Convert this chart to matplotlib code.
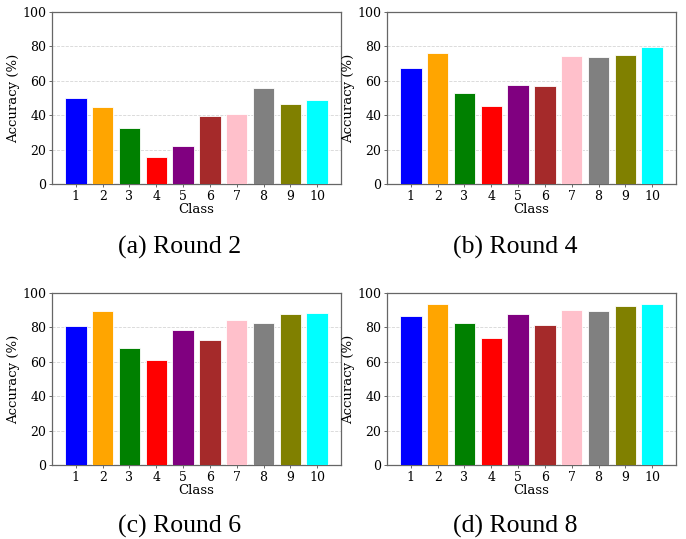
import matplotlib
matplotlib.use('Agg')
import matplotlib.pyplot as plt

# per-class accuracy (%)
classes = [1, 2, 3, 4, 5, 6, 7, 8, 9, 10]
acc_round2 = [49.8, 44.8, 32.6, 15.7, 22.3, 39.7, 40.7, 55.6, 46.7, 49.0]
acc_round4 = [67.4, 76.2, 52.9, 45.5, 57.6, 57.0, 74.4, 74.0, 75.0, 79.8]
acc_round6 = [80.6, 89.5, 68.0, 61.0, 78.3, 72.5, 84.1, 82.6, 88.0, 88.6]
acc_round8 = [86.4, 93.4, 82.6, 74.0, 87.6, 81.4, 90.3, 89.5, 92.2, 93.4]
captions = ['(a) Round 2', '(b) Round 4', '(c) Round 6', '(d) Round 8']

colors = ['blue', 'orange', 'green', 'red', 'purple',
          'brown', 'pink', 'gray', 'olive', 'cyan']

fig = plt.figure(figsize=(6.86, 5.39), dpi=100)

# axes boxes in figure fractions
boxes = [[0.0758, 0.6586, 0.4213, 0.3191],
         [0.5641, 0.6586, 0.4213, 0.3191],
         [0.0758, 0.1373, 0.4213, 0.3191],
         [0.5641, 0.1373, 0.4213, 0.3191]]
cap_pos = [(0.262, 0.541), (0.751, 0.541), (0.262, 0.023), (0.751, 0.023)]

data = [acc_round2, acc_round4, acc_round6, acc_round8]

for box, vals, cap, cp in zip(boxes, data, captions, cap_pos):
    ax = fig.add_axes(box)
    ax.bar(classes, vals, width=0.8, color=colors, edgecolor='white', linewidth=0.6, zorder=3)
    ax.set_ylim(0, 100)
    ax.set_xticks(classes)
    ax.set_yticks([0, 20, 40, 60, 80, 100])
    ax.grid(axis='y', linestyle='--', color='#cccccc', linewidth=0.6, alpha=0.8, zorder=0)
    for s in ax.spines.values():
        s.set_color('#666666')
        s.set_linewidth(0.9)
    ax.tick_params(labelsize=9, length=2.5, width=0.7, color='#666666', pad=1.5)
    for lab in ax.get_xticklabels() + ax.get_yticklabels():
        lab.set_family('DejaVu Serif')
    ax.set_xlabel('Class', family='DejaVu Serif', fontsize=9.5, labelpad=0)
    ax.set_ylabel('Accuracy (%)', family='DejaVu Serif', fontsize=9.5, labelpad=2)
    fig.text(cp[0], cp[1], cap, ha='center', va='center', family='Liberation Serif', fontsize=18.5)

fig.savefig('out.png', dpi=100)
